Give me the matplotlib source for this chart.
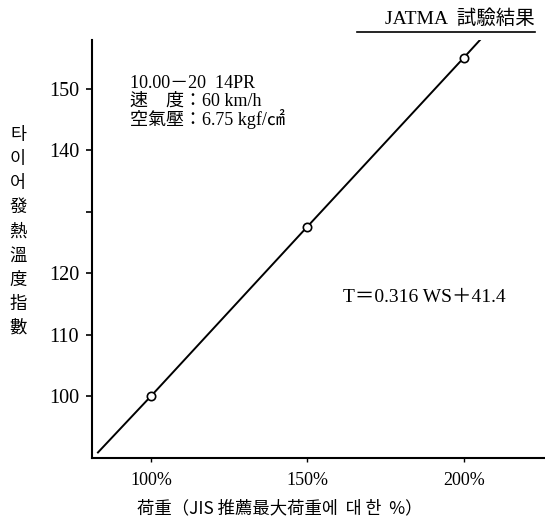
import matplotlib
matplotlib.use("Agg")
import matplotlib.pyplot as plt

# load (% of JIS max) vs. tyre heat temperature index
load_pct = [100, 150, 200]
temp_index = [100, 127.6, 155.1]

# fitted straight line drawn through the points
fit_x = [83, 100, 150, 200, 207]
fit_y = [90.8, 100, 127.6, 155.1, 159.0]

y_ticks = [100, 110, 120, 130, 140, 150]
y_tick_labels = ["100", "110", "120", "", "140", "150"]
x_ticks = [100, 150, 200]
x_tick_labels = ["100%", "150%", "200%"]

ylabel_chars = ["타", "이", "어", "發", "熱", "溫", "度", "指", "數"]

SERIF = ["Liberation Serif", "Noto Sans CJK KR", "DejaVu Sans"]
CJK = ["Noto Sans CJK KR", "Liberation Serif", "DejaVu Sans"]

W, H = 545, 522


def fx(px):
  return px / W


def fy(py):
  return 1 - py / H


def main():
  fig = plt.figure(figsize=(W / 100, H / 100), dpi=100)
  ax = fig.add_axes([fx(92), fy(458), (W - 92) / W, (458 - 40) / H])

  # Data line and measured points.
  ax.plot(fit_x, fit_y, color="black", lw=1.4, zorder=2)
  ax.plot(load_pct, temp_index, "o", ms=6, mfc="white", mec="black",
          mew=1.2, zorder=3)

  ax.set_xlim(81.1, 226)
  ax.set_ylim(89.9, 158)
  ax.spines["top"].set_visible(False)
  ax.spines["right"].set_visible(False)
  for s in ("left", "bottom"):
    ax.spines[s].set_linewidth(1.5)

  ax.set_yticks(y_ticks)
  ax.set_yticklabels(y_tick_labels, family=SERIF, fontsize=14.5)
  ax.set_xticks(x_ticks)
  ax.set_xticklabels(x_tick_labels, family=SERIF, fontsize=13)
  ax.tick_params(axis="y", direction="out", length=4.3, width=1.2, pad=5)
  ax.tick_params(axis="x", direction="out", length=3, width=1.0, pad=7)

  # Header with underline.
  fig.text(fx(535), fy(19), "JATMA  試驗結果", ha="right", va="center",
           family=SERIF, fontsize=14)
  fig.add_artist(plt.Line2D([fx(357), fx(535)], [fy(32), fy(32)],
                            color="black", lw=1.2))

  # Test conditions.
  fig.text(fx(130), fy(83), "10.00－20  14PR", ha="left", va="center",
           family=SERIF, fontsize=13)
  fig.text(fx(130), fy(101), "速　度：60 km/h", ha="left", va="center",
           family=SERIF, fontsize=13)
  fig.text(fx(130), fy(119), "空氣壓：6.75 kgf/㎠", ha="left", va="center",
           family=SERIF, fontsize=13)

  # Regression equation.
  fig.text(fx(343), fy(297), "T＝0.316 WS＋41.4", ha="left", va="center",
           family=SERIF, fontsize=14)

  # Vertical y label, one character per line.
  for i, ch in enumerate(ylabel_chars):
    fig.text(fx(18), fy(135 + i * 24.1), ch, ha="center", va="center",
             family=CJK, fontsize=12.5)

  fig.text(fx(280), fy(508), "荷重（JIS 推薦最大荷重에  대 한  %）",
           ha="center", va="center", family=CJK, fontsize=12.5)

  fig.savefig("out.png", dpi=100)


if __name__ == "__main__":
  main()
